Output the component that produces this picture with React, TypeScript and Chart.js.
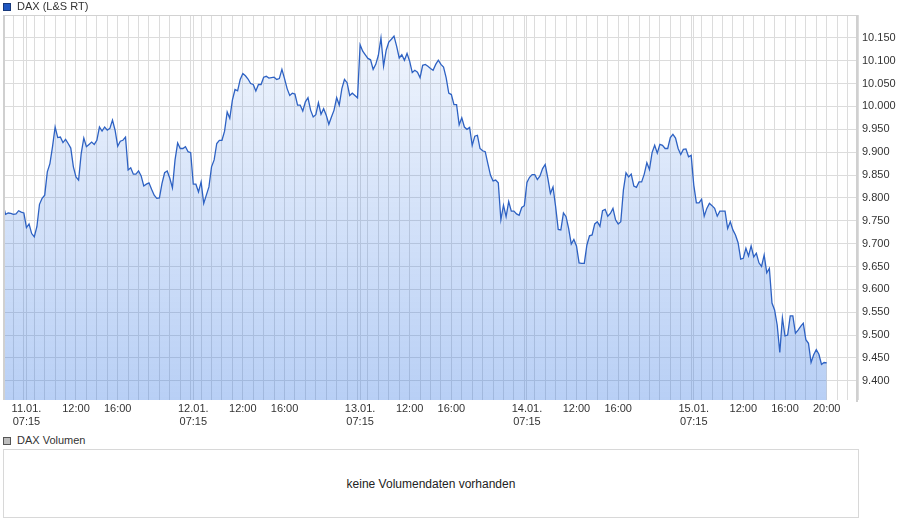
import React, { useEffect, useRef } from "react";
import { Chart, registerables } from "chart.js";

Chart.register(...registerables);

// ---- data ----
const seriesName = "DAX (L&S RT)";
const volumeName = "DAX Volumen";
const volumeMessage = "keine Volumendaten vorhanden";

// trading days shown (each day = 16 trading hours, 07:00 - 23:00)
const dayLabels = ["11.01.", "12.01.", "13.01.", "14.01.", "15.01."];
const dayStartTime = "07:15";
const intradayTimes = ["12:00", "16:00"];
const lastDayExtraTimes = ["20:00"];
const tradingDayStartHour = 7;
const tradingHoursPerDay = 16;

// axis range in trading hours relative to 11.01. 07:00
const axisStartHour = -2;
const axisEndHour = 80;

// y axis tick labels (points)
const yTickValues = [9400, 9450, 9500, 9550, 9600, 9650, 9700, 9750, 9800, 9850, 9900, 9950, 10000, 10050, 10100, 10150];
const yMin = 9358;
const yMax = 10200;

// 15-minute quotes, first one at trading hour -2 (08.01. 21:00)
const seriesStartHour = -2;
const stepHours = 0.25;
const daxValues = [
  9786, 9764, 9767, 9766, 9764, 9765, 9772, 9769,
  9767, 9735, 9743, 9722, 9715, 9737, 9786, 9799,
  9806, 9857, 9875, 9912, 9955, 9932, 9933, 9921,
  9928, 9919, 9909, 9868, 9846, 9839, 9897, 9931,
  9912, 9917, 9922, 9917, 9926, 9955, 9946, 9955,
  9948, 9952, 9970, 9948, 9913, 9924, 9926, 9933,
  9861, 9866, 9852, 9852, 9859, 9848, 9826, 9830,
  9833, 9819, 9806, 9799, 9800, 9832, 9855, 9859,
  9843, 9822, 9883, 9920, 9908, 9908, 9912, 9901,
  9899, 9830, 9830, 9813, 9835, 9788, 9806, 9824,
  9868, 9883, 9919, 9926, 9926, 9946, 9988, 9974,
  10014, 10037, 10034, 10059, 10072, 10067, 10060, 10050,
  10048, 10034, 10048, 10048, 10064, 10066, 10062, 10063,
  10064, 10059, 10061, 10081, 10061, 10039, 10024, 10029,
  10027, 10003, 10003, 9990, 10010, 10019, 9992, 9977,
  9982, 10008, 9983, 9995, 9981, 9961, 9977, 9992,
  10019, 10003, 10039, 10059, 10052, 10024, 10029, 10024,
  10019, 10135, 10121, 10113, 10105, 10102, 10081, 10092,
  10112, 10150, 10088, 10123, 10141, 10147, 10154, 10132,
  10106, 10113, 10101, 10116, 10099, 10074, 10079, 10075,
  10063, 10090, 10092, 10088, 10083, 10079, 10092, 10101,
  10092, 10086, 10063, 10029, 10026, 10004, 10004, 9960,
  9975, 9955, 9950, 9954, 9915, 9935, 9937, 9908,
  9903, 9901, 9875, 9850, 9837, 9839, 9833, 9752,
  9784, 9759, 9792, 9771, 9771, 9765, 9762, 9779,
  9783, 9834, 9845, 9851, 9851, 9840, 9848, 9864,
  9873, 9843, 9810, 9824, 9781, 9731, 9730, 9767,
  9759, 9733, 9699, 9709, 9695, 9658, 9657, 9657,
  9697, 9717, 9719, 9743, 9748, 9738, 9772, 9775,
  9760, 9766, 9777, 9752, 9743, 9748, 9817, 9855,
  9846, 9852, 9826, 9823, 9835, 9835, 9852, 9877,
  9862, 9899, 9915, 9898, 9917, 9915, 9908, 9908,
  9932, 9939, 9931, 9908, 9895, 9906, 9907, 9890,
  9893, 9828, 9789, 9789, 9797, 9760, 9777, 9788,
  9783, 9777, 9760, 9771, 9771, 9771, 9733, 9748,
  9730, 9719, 9702, 9666, 9668, 9690, 9673, 9695,
  9671, 9679, 9658, 9650, 9675, 9636, 9646, 9570,
  9555, 9522, 9462, 9538, 9498, 9500, 9542, 9542,
  9504, 9511, 9519, 9526, 9490, 9482, 9440, 9457,
  9468, 9458, 9436, 9440, 9439,
];

// ---- helpers ----
const FONT = "'Liberation Sans', Arial, Helvetica, sans-serif";
const TEXT = "#333333";
const GRID = "#dcdcdc";

function tradingHour(dayIndex: number, time: string): number {
  const [h, m] = time.split(":").map(Number);
  return dayIndex * tradingHoursPerDay + h + m / 60 - tradingDayStartHour;
}

function formatPoints(v: number): string {
  const thousands = Math.floor(v / 1000);
  const rest = Math.round(v - thousands * 1000);
  return thousands + "." + String(rest).padStart(3, "0");
}

function buildXLabels(): Map<number, string | string[]> {
  const map = new Map<number, string | string[]>();
  dayLabels.forEach((d, i) => {
    map.set(tradingHour(i, dayStartTime), [d, dayStartTime]);
    intradayTimes.forEach((t) => map.set(tradingHour(i, t), t));
    if (i === dayLabels.length - 1) {
      lastDayExtraTimes.forEach((t) => map.set(tradingHour(i, t), t));
    }
  });
  return map;
}

const framePlugin = {
  id: "frame",
  afterDraw(chart: any) {
    const { ctx, chartArea } = chart;
    const { left, right, top, bottom } = chartArea;
    ctx.save();
    ctx.strokeStyle = "#d2d2d2";
    ctx.lineWidth = 1;
    ctx.beginPath();
    ctx.moveTo(left, top + 0.5);
    ctx.lineTo(right, top + 0.5);
    ctx.stroke();
    ctx.lineWidth = 2;
    ctx.strokeStyle = "#d0d0d0";
    ctx.beginPath();
    ctx.moveTo(left + 1, top);
    ctx.lineTo(left + 1, bottom);
    ctx.moveTo(right - 1, top);
    ctx.lineTo(right - 1, bottom + 2);
    ctx.stroke();
    ctx.restore();
  },
};

function PriceChart() {
  const ref = useRef<HTMLCanvasElement | null>(null);
  useEffect(() => {
    if (!ref.current) return;
    const xLabels = buildXLabels();
    const data = daxValues.map((v, i) => ({ x: seriesStartHour + i * stepHours, y: v }));

    const chart = new Chart(ref.current, {
      type: "line",
      data: {
        datasets: [
          {
            label: seriesName,
            data,
            borderColor: "#2e62c3",
            borderWidth: 1.3,
            pointRadius: 0,
            tension: 0,
            fill: "start",
            backgroundColor: (ctx: any) => {
              const area = ctx.chart.chartArea;
              if (!area) return "rgba(40,110,225,0.2)";
              const g = ctx.chart.ctx.createLinearGradient(0, area.top, 0, area.bottom);
              g.addColorStop(0, "rgba(40,110,225,0.06)");
              g.addColorStop(1, "rgba(40,110,225,0.33)");
              return g;
            },
          },
        ],
      },
      options: {
        responsive: false,
        animation: false,
        layout: { padding: { left: 3, top: 15, right: 0, bottom: 0 } },
        plugins: { legend: { display: false }, tooltip: { enabled: false } },
        scales: {
          x: {
            type: "linear",
            min: axisStartHour,
            max: axisEndHour,
            border: { display: false },
            grid: { color: GRID, drawTicks: false, lineWidth: 1 },
            afterBuildTicks: (scale: any) => {
              const vals = new Set<number>();
              for (let h = axisStartHour; h <= axisEndHour; h++) vals.add(h);
              xLabels.forEach((_, k) => vals.add(k));
              scale.ticks = Array.from(vals)
                .sort((a, b) => a - b)
                .map((v) => ({ value: v }));
            },
            afterFit: (scale: any) => {
              scale.height = 32;
            },
            ticks: {
              autoSkip: false,
              maxRotation: 0,
              minRotation: 0,
              padding: 2,
              color: TEXT,
              font: { family: FONT, size: 11, lineHeight: 1.2 },
              callback: (value: any) => {
                const l = xLabels.get(Number(value));
                return l === undefined ? "" : l;
              },
            },
          },
          y: {
            type: "linear",
            position: "right",
            min: yMin,
            max: yMax,
            border: { display: false },
            grid: { color: GRID, drawTicks: false, lineWidth: 1 },
            afterBuildTicks: (scale: any) => {
              scale.ticks = yTickValues.map((v) => ({ value: v }));
            },
            afterFit: (scale: any) => {
              scale.width = 42;
            },
            ticks: {
              padding: 4,
              color: TEXT,
              font: { family: FONT, size: 11 },
              callback: (value: any) => formatPoints(Number(value)),
            },
          },
        },
      },
      plugins: [framePlugin],
    } as any);
    return () => chart.destroy();
  }, []);
  return <canvas ref={ref} width={900} height={432} style={{ display: "block" }} />;
}

function LegendItem({ top, color, border, text }: { top: number; color: string; border: string; text: string }) {
  return (
    <div style={{ position: "absolute", left: 3, top, height: 13, display: "flex", alignItems: "center" }}>
      <span
        style={{
          display: "inline-block",
          width: 6,
          height: 6,
          background: color,
          border: `1px solid ${border}`,
          marginRight: 6,
        }}
      />
      <span style={{ fontFamily: FONT, fontSize: 11, color: TEXT, lineHeight: "13px" }}>{text}</span>
    </div>
  );
}

export default function App() {
  return (
    <div
      style={{
        position: "fixed",
        left: 0,
        top: 0,
        width: 900,
        height: 526,
        background: "#ffffff",
        overflow: "hidden",
      }}
    >
      <div style={{ position: "absolute", left: 0, top: 0, width: 900, height: 432 }}>
        <PriceChart />
      </div>
      <LegendItem top={0} color="#1f56c0" border="#17387a" text={seriesName} />
      <LegendItem top={434} color="#bdbdbd" border="#555555" text={volumeName} />
      <div
        style={{
          position: "absolute",
          left: 3,
          top: 449,
          width: 854,
          height: 67,
          border: "1px solid #d8d8d8",
          display: "flex",
          alignItems: "center",
          justifyContent: "center",
          fontFamily: FONT,
          fontSize: 12,
          color: "#222",
        }}
      >
        {volumeMessage}
      </div>
    </div>
  );
}
